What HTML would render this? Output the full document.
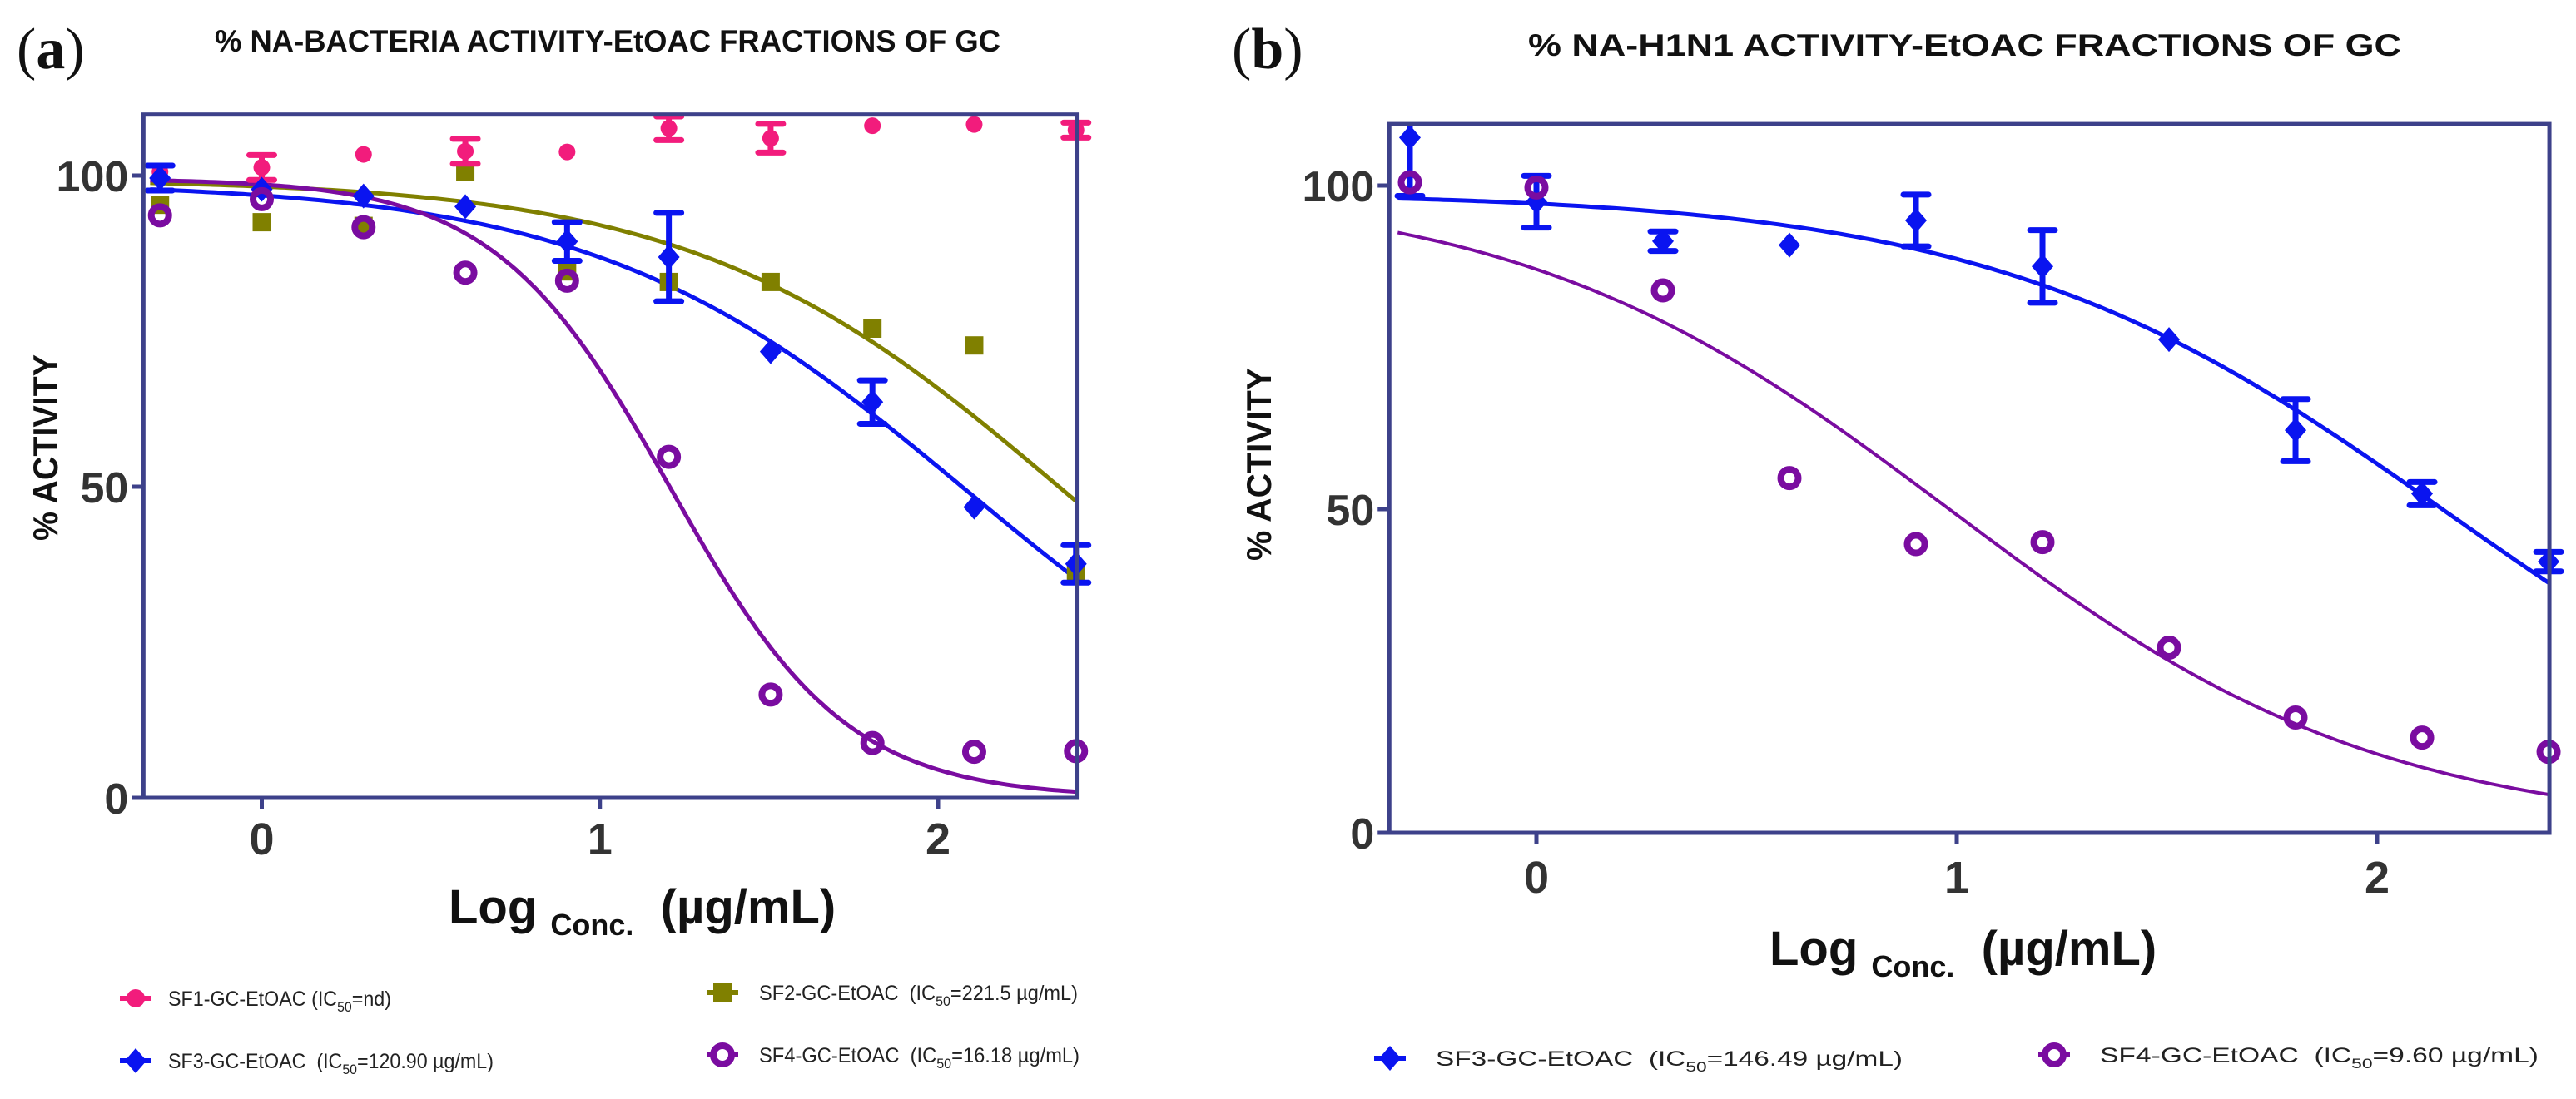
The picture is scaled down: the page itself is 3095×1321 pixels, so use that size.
<!DOCTYPE html>
<html><head><meta charset="utf-8">
<style>
html,body{margin:0;padding:0;background:#fff;}
svg{display:block;font-family:"Liberation Sans",sans-serif;}
</style></head>
<body>
<svg id="fig" width="3095" height="1321" viewBox="0 0 3095 1321" xmlns="http://www.w3.org/2000/svg">
<rect x="0" y="0" width="3095" height="1321" fill="#fff"/>
<text x="20" y="82" font-family="Liberation Serif,serif" font-size="70" fill="#111">(<tspan font-weight="bold">a</tspan>)</text>
<text x="1480" y="82" font-family="Liberation Serif,serif" font-size="70" fill="#111">(<tspan font-weight="bold">b</tspan>)</text>
<text x="258" y="62" font-size="37" font-weight="bold" fill="#111" textLength="944" lengthAdjust="spacingAndGlyphs">% NA-BACTERIA ACTIVITY-EtOAC FRACTIONS OF GC</text>
<text x="1836" y="67" font-size="37" font-weight="bold" fill="#111" textLength="1049" lengthAdjust="spacingAndGlyphs">% NA-H1N1 ACTIVITY-EtOAC FRACTIONS OF GC</text>
<g id="pa"></g>
<g id="pb"></g>
</svg>
<script>
// ---------- Panel A data ----------
const xsA = [-0.301, 0, 0.301, 0.602, 0.903, 1.204, 1.505, 1.806, 2.107, 2.408];
const sf1A = [100.6, 101.3, 103.4, 103.9, 103.8, 107.6, 106.0, 108.0, 108.2, 107.3];
const sf1AErr = [0, 2.0, 0, 2.0, 0, 1.9, 2.3, 0, 0, 1.2];
const sf2A = [95.3, 92.5, 91.9, 100.6, 84.6, 82.9, 82.9, 75.4, 72.7, 36.0];
const sf3A = [99.6, 97.8, 96.7, 95.0, 89.4, 86.9, 71.7, 63.6, 46.7, 37.6];
const sf3AErr = [2.0, 0, 0, 0, 3.1, 7.1, 0, 3.5, 0, 3.0];
const sf4A = [93.6, 96.2, 91.7, 84.4, 83.1, 54.8, 16.6, 8.8, 7.4, 7.5];
// fit params: top, bottom, logIC50, hill
const fitSF2A = [99.5, 0, 2.363, 0.8];
const fitSF3A = [99.0, 0, 2.082, 0.79];
const fitSF4A = [99.5, 0, 1.209, 1.67];
const xTicksA = [0, 1, 2];
const yTicksA = [0, 50, 100];
// ---------- Panel B data ----------
const xsB = [-0.301, 0, 0.301, 0.602, 0.903, 1.204, 1.505, 1.806, 2.107, 2.408];
const sf3B = [107.4, 97.5, 91.4, 90.8, 94.6, 87.5, 76.2, 62.2, 52.4, 41.9];
const sf3BErr = [9.0, 4.0, 1.5, 0, 4.0, 5.6, 0, 4.8, 1.8, 1.5];
const sf4B = [100.5, 99.7, 83.8, 54.8, 44.6, 44.9, 28.6, 17.8, 14.7, 12.5];
const fitSF3B = [99.0, 0, 2.166, 0.8];
const fitSF4B = [100, 0, 0.982, 0.843];
const xTicksB = [0, 1, 2];
const yTicksB = [0, 50, 100];

const NS = "http://www.w3.org/2000/svg";
const AX = "#3d418a", PINK = "#f21c7c", OLIVE = "#808000", BLUE = "#0a14f0", PURPLE = "#7a0ca0";

function mk(parent, tag, attrs){
  const e = document.createElementNS(NS, tag);
  for (const k in attrs) e.setAttribute(k, attrs[k]);
  parent.appendChild(e);
  return e;
}
function logistic(p, x){ return p[1] + (p[0]-p[1])/(1+Math.pow(10,(x-p[2])*p[3])); }

function panel(g, cfg){
  const sx = v => cfg.px0 + (v - cfg.x0) * (cfg.px1 - cfg.px0) / (cfg.x1 - cfg.x0);
  const sy = v => cfg.py0 + (v - cfg.y0) * (cfg.py1 - cfg.py0) / (cfg.y1 - cfg.y0);
  const L = sx(cfg.xmin), R = sx(cfg.xmax), T = sy(cfg.ymax), B = sy(0);
  const cid = cfg.id + "-clip";
  const defs = mk(g, "defs", {});
  const cp = mk(defs, "clipPath", {id: cid});
  mk(cp, "rect", {x: L-30, y: T+2, width: R-L+60, height: B-T+40});
  cfg.xTicks.forEach(t => {
    const tk = mk(g, "line", {x1: sx(t), x2: sx(t), y1: B, y2: B+14, stroke: AX, "stroke-width": 5});
    
    
    const tl = mk(g, "text", {x: sx(t), y: cfg.xTickY, "text-anchor": "middle", "font-size": 54, "font-weight": "bold", fill: "#333"});
    tl.textContent = String(t);
    
    
  });
  cfg.yTicks.forEach(t => {
    const tk = mk(g, "line", {x1: L-14, x2: L, y1: sy(t), y2: sy(t), stroke: AX, "stroke-width": 5});
    
    
    const tl = mk(g, "text", {x: L-18, y: sy(t)+19, "text-anchor": "end", "font-size": 52, "font-weight": "bold", fill: "#333"});
    tl.textContent = String(t);
    
    
  });
  const data = mk(g, "g", {"clip-path": "url(#" + cid + ")"});
  
  
  cfg.curves.forEach(c => {
    let d = "";
    for (let i = 0; i <= 200; i++){
      const x = cfg.xmin + 0.02 + (cfg.xmax - cfg.xmin - 0.02) * i / 200;
      d += (i ? "L" : "M") + sx(x).toFixed(1) + "," + sy(logistic(c.p, x)).toFixed(1);
    }
    const pth = mk(data, "path", {d: d, fill: "none", stroke: c.color, "stroke-width": c.w || 5});
    
    
  });
  cfg.series.forEach(s => {
    s.ys.forEach((v, i) => {
      const cx = sx(s.xs[i]), cy = sy(v);
      const err = s.err ? s.err[i] : 0;
      if (err > 0){
        const e1 = mk(data, "line", {x1: cx, x2: cx, y1: sy(v+err), y2: sy(v-err), stroke: s.color, "stroke-width": 7});
        
        
        [v+err, v-err].forEach(ev => {
          const cap = mk(data, "line", {x1: cx-15, x2: cx+15, y1: sy(ev), y2: sy(ev), stroke: s.color, "stroke-width": 7, "stroke-linecap": "round"});
          
          
        });
      }
      let m;
      if (s.shape === "circle") m = mk(data, "circle", {cx: cx, cy: cy, r: 10, fill: s.color});
      else if (s.shape === "square") m = mk(data, "rect", {x: cx-11, y: cy-11, width: 22, height: 22, fill: s.color});
      else if (s.shape === "diamond") m = mk(data, "path", {d: `M${cx},${cy-15}L${cx+13},${cy}L${cx},${cy+15}L${cx-13},${cy}Z`, fill: s.color});
      else m = mk(data, "circle", {cx: cx, cy: cy, r: 10.5, fill: "none", stroke: s.color, "stroke-width": 8});
      
      
    });
  });
  const fr = mk(g, "rect", {x: L, y: T, width: R-L, height: B-T, fill: "none", stroke: AX, "stroke-width": 5});
  
  
  const yt = mk(g, "text", {x: 0, y: 0, transform: `translate(${cfg.yTitleX},${cfg.yTitleY}) rotate(-90)`, "text-anchor": "middle", "font-size": 42, "font-weight": "bold", fill: "#111", textLength: cfg.yTitleLen, lengthAdjust: "spacingAndGlyphs"});
  yt.textContent = "% ACTIVITY";
  
  
  const xt = mk(g, "text", {x: cfg.xTitleX, y: cfg.xTitleY, "font-size": 58, "font-weight": "bold", fill: "#111"});
  
  
  const t1 = mk(xt, "tspan", {}); t1.textContent = "Log ";
  const t2 = mk(xt, "tspan", {"font-size": 36, dy: 14}); t2.textContent = "Conc.";
  const t3 = mk(xt, "tspan", {dy: -14}); t3.textContent = "\u00a0 (\u00b5g/mL)";
  cfg.legend.forEach(l => {
    const lg = mk(g, "g", {});
    
    
    mk(lg, "line", {x1: l.mx-19, x2: l.mx+19, y1: l.y, y2: l.y, stroke: l.color, "stroke-width": 6});
    if (l.shape === "circle") mk(lg, "circle", {cx: l.mx, cy: l.y, r: 11, fill: l.color});
    else if (l.shape === "square") mk(lg, "rect", {x: l.mx-11, y: l.y-11, width: 22, height: 22, fill: l.color});
    else if (l.shape === "diamond") mk(lg, "path", {d: `M${l.mx},${l.y-15}L${l.mx+13},${l.y}L${l.mx},${l.y+15}L${l.mx-13},${l.y}Z`, fill: l.color});
    else mk(lg, "circle", {cx: l.mx, cy: l.y, r: 11, fill: "#fff", stroke: l.color, "stroke-width": 8});
    const tx = mk(lg, "text", {x: l.tx, y: l.y+9, "font-size": 25, fill: "#222", textLength: l.len, lengthAdjust: "spacingAndGlyphs"});
    const a = mk(tx, "tspan", {}); a.textContent = l.pre + "IC";
    const b = mk(tx, "tspan", {"font-size": 17, dy: 7}); b.textContent = "50";
    const c = mk(tx, "tspan", {dy: -7}); c.textContent = l.post;
  });
}

panel(document.getElementById("pa"), {
  id: "pa", x0: 0, x1: 2, px0: 314.5, px1: 1127, y0: 0, y1: 100, py0: 959, py1: 211,
  xmin: -0.35, xmax: 2.41, ymax: 109.8, xTicks: xTicksA, yTicks: yTicksA, xTickY: 1027,
  curves: [
    {p: fitSF2A, color: OLIVE, name: "sf2-fit-curve", w: 5},
    {p: fitSF3A, color: BLUE, name: "sf3-fit-curve", w: 5},
    {p: fitSF4A, color: PURPLE, name: "sf4-fit-curve", w: 5}
  ],
  series: [
    {name: "sf2", xs: xsA, ys: sf2A, color: OLIVE, shape: "square"},
    {name: "sf1", xs: xsA, ys: sf1A, err: sf1AErr, color: PINK, shape: "circle"},
    {name: "sf3", xs: xsA, ys: sf3A, err: sf3AErr, color: BLUE, shape: "diamond"},
    {name: "sf4", xs: xsA, ys: sf4A, color: PURPLE, shape: "ring"}
  ],
  yTitleX: 69, yTitleY: 538, yTitleLen: 224,
  xTitleX: 539, xTitleY: 1110,
  legend: [
    {mx: 163, y: 1200, tx: 202, len: 268, color: PINK, shape: "circle", pre: "SF1-GC-EtOAC (", post: "=nd)"},
    {mx: 868, y: 1193, tx: 912, len: 383, color: OLIVE, shape: "square", pre: "SF2-GC-EtOAC\u00a0\u00a0(", post: "=221.5 \u00b5g/mL)"},
    {mx: 163, y: 1275, tx: 202, len: 391, color: BLUE, shape: "diamond", pre: "SF3-GC-EtOAC\u00a0\u00a0(", post: "=120.90 \u00b5g/mL)"},
    {mx: 868, y: 1268, tx: 912, len: 385, color: PURPLE, shape: "ring", pre: "SF4-GC-EtOAC\u00a0\u00a0(", post: "=16.18 \u00b5g/mL)"}
  ]
});

panel(document.getElementById("pb"), {
  id: "pb", x0: 0, x1: 2, px0: 1846, px1: 2856, y0: 0, y1: 100, py0: 1001, py1: 223,
  xmin: -0.35, xmax: 2.41, ymax: 109.5, xTicks: xTicksB, yTicks: yTicksB, xTickY: 1073,
  curves: [
    {p: fitSF3B, color: BLUE, name: "sf3-fit-curve", w: 5},
    {p: fitSF4B, color: PURPLE, name: "sf4-fit-curve", w: 4}
  ],
  series: [
    {name: "sf3", xs: xsB, ys: sf3B, err: sf3BErr, color: BLUE, shape: "diamond"},
    {name: "sf4", xs: xsB, ys: sf4B, color: PURPLE, shape: "ring"}
  ],
  yTitleX: 1527, yTitleY: 558, yTitleLen: 232,
  xTitleX: 2126, xTitleY: 1160,
  legend: [
    {mx: 1670, y: 1272, tx: 1725, len: 561, color: BLUE, shape: "diamond", pre: "SF3-GC-EtOAC\u00a0\u00a0(", post: "=146.49 \u00b5g/mL)"},
    {mx: 2468, y: 1268, tx: 2523, len: 527, color: PURPLE, shape: "ring", pre: "SF4-GC-EtOAC\u00a0\u00a0(", post: "=9.60 \u00b5g/mL)"}
  ]
});
</script>
</body></html>
